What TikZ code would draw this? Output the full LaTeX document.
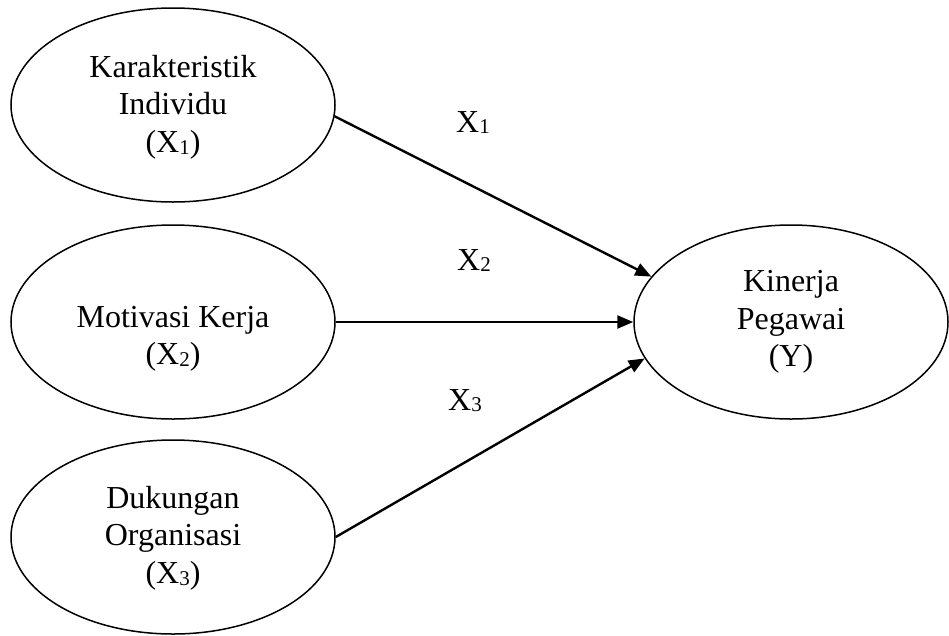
\documentclass[tikz,border=0pt]{standalone}
\usepackage{fontspec}
\setmainfont{Liberation Serif}
\usetikzlibrary{shapes.geometric,arrows.meta}
\newcommand{\sbs}[1]{\raisebox{-0.06em}{\fontsize{21}{21}\selectfont #1}}
\begin{document}
\begin{tikzpicture}[x=1pt,y=-1pt,
  ell/.style={draw, ellipse, line width=1.5pt, inner sep=0pt, minimum width=324pt, minimum height=194pt},
  txt/.style={align=center, font=\fontsize{32}{37.5}\selectfont, inner sep=0pt},
  lbl/.style={anchor=base, font=\fontsize{32}{37.5}\selectfont, inner sep=0pt},
  arr/.style={-{Triangle[length=16pt,width=13pt]}, line width=2.4pt}]
\useasboundingbox (0,0) rectangle (949,635);
% ellipses
\node[ell] (k1) at (173,105) {};
\node[ell] (m) at (173,322) {};
\node[ell] (k3) at (173,537) {};
\node[ell, minimum width=314pt] (y) at (791,322) {};
% texts
\node[txt] (t1) at (173,107) {Karakteristik\\Individu\\(X\sbs{1})};
\node[txt] (t2) at (173,339) {Motivasi Kerja\\(X\sbs{2})};
\node[txt] (t3) at (173,538) {Dukungan\\Organisasi\\(X\sbs{3})};
\node[txt] (ty) at (791,322) {Kinerja\\Pegawai\\(Y)};
% arrows
\draw[arr] (k1.-4) -- (y.162);
\draw[arr] (m.east) -- (y.west);
\draw[arr] (k3.east) -- (y.194);
% labels
\node[lbl] (l1) at (473,132) {X\sbs{1}};
\node[lbl] (l2) at (474,270) {X\sbs{2}};
\node[lbl] (l3) at (465,410) {X\sbs{3}};
\end{tikzpicture}
\end{document}
